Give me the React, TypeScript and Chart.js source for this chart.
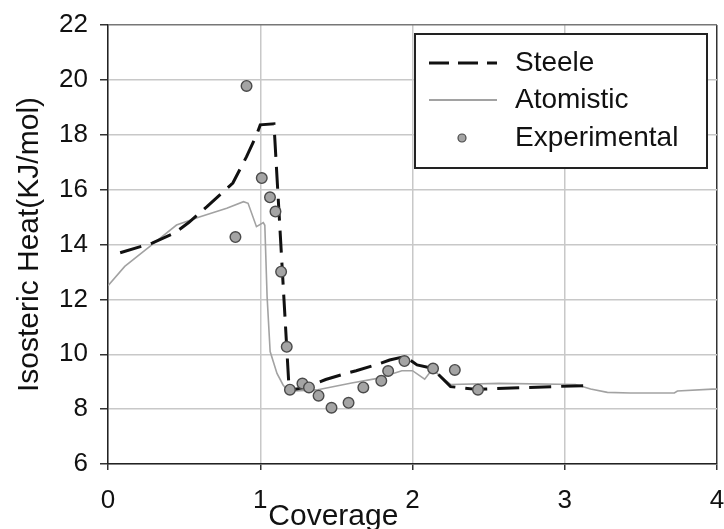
import React, { useEffect, useRef } from "react";
import { Chart, registerables } from "chart.js";

Chart.register(...registerables);

// Steele model curve (coverage vs isosteric heat, kJ/mol)
const steeleCoverage = [0.08, 0.29, 0.44, 0.53, 0.65, 0.82, 0.91, 0.98, 1.0, 1.09, 1.19, 1.3, 1.43, 1.58, 1.63, 1.79, 1.85, 1.95, 2.03, 2.13, 2.25, 2.42, 2.7, 3.15];
const steeleHeat = [13.7, 14.05, 14.43, 14.8, 15.38, 16.24, 17.2, 18.05, 18.36, 18.4, 8.68, 8.8, 9.08, 9.33, 9.4, 9.67, 9.79, 9.92, 9.61, 9.49, 8.82, 8.72, 8.78, 8.86];

// Atomistic simulation curve
const atomCoverage = [0, 0.11, 0.3, 0.45, 0.6, 0.78, 0.89, 0.92, 0.975, 1.02, 1.03, 1.045, 1.065, 1.11, 1.15, 1.185, 1.37, 1.6, 1.77, 1.93, 2.0, 2.08, 2.13, 2.25, 2.57, 3.07, 3.17, 3.28, 3.43, 3.72, 3.74, 3.97, 4.0];
const atomHeat = [12.5, 13.2, 14.04, 14.71, 15.0, 15.32, 15.56, 15.5, 14.65, 14.8, 14.7, 12.1, 10.1, 9.3, 8.88, 8.65, 8.7, 8.95, 9.12, 9.4, 9.4, 9.09, 9.45, 8.9, 8.94, 8.9, 8.73, 8.61, 8.59, 8.59, 8.66, 8.73, 8.73];

// Experimental measurements
const expCoverage = [0.837, 0.91, 1.01, 1.064, 1.1, 1.137, 1.174, 1.195, 1.277, 1.32, 1.383, 1.468, 1.58, 1.677, 1.795, 1.84, 1.947, 2.135, 2.278, 2.43];
const expHeat = [14.27, 19.78, 16.42, 15.72, 15.2, 13.01, 10.27, 8.71, 8.93, 8.79, 8.49, 8.05, 8.23, 8.79, 9.03, 9.39, 9.75, 9.48, 9.43, 8.71];

const xTicks = [0, 1, 2, 3, 4];
const yTicks = [6, 8, 10, 12, 14, 16, 18, 20, 22];

const seriesNames = ["Steele", "Atomistic", "Experimental"];
const xTitle = "Coverage";
const yTitle = "Isosteric Heat(KJ/mol)";

const FONT = "'Liberation Sans', Arial, Helvetica, sans-serif";

const toPoints = (xs: number[], ys: number[]) => xs.map((x, i) => ({ x, y: ys[i] }));

// Draws the x-axis title and the boxed legend inside the plot
const decorations = {
  id: "decorations",
  afterDraw(chart: any) {
    const { ctx, scales } = chart;
    const xs = scales.x;
    ctx.save();
    ctx.fillStyle = "#111";
    ctx.font = `30px ${FONT}`;
    ctx.textAlign = "center";
    ctx.textBaseline = "alphabetic";
    ctx.fillText(xTitle, xs.getPixelForValue(1.48), chart.chartArea.bottom + 61);

    // legend box
    const bx = 415, by = 34, bw = 292, bh = 134;
    ctx.fillStyle = "#fff";
    ctx.fillRect(bx, by, bw, bh);
    ctx.strokeStyle = "#222";
    ctx.lineWidth = 2;
    ctx.strokeRect(bx, by, bw, bh);

    const rows = [63, 100, 138];
    const ds = chart.data.datasets;
    // Steele sample
    ctx.beginPath();
    ctx.strokeStyle = ds[0].borderColor;
    ctx.lineWidth = 3;
    ctx.setLineDash([20, 9]);
    ctx.moveTo(429, rows[0]);
    ctx.lineTo(497, rows[0]);
    ctx.stroke();
    ctx.setLineDash([]);
    // Atomistic sample
    ctx.beginPath();
    ctx.strokeStyle = ds[1].borderColor;
    ctx.lineWidth = 2;
    ctx.moveTo(429, rows[1]);
    ctx.lineTo(497, rows[1]);
    ctx.stroke();
    // Experimental marker
    ctx.beginPath();
    ctx.arc(462, rows[2], 4, 0, Math.PI * 2);
    ctx.fillStyle = ds[2].backgroundColor;
    ctx.fill();
    ctx.lineWidth = 1.2;
    ctx.strokeStyle = ds[2].borderColor;
    ctx.stroke();

    ctx.fillStyle = "#111";
    ctx.font = `28px ${FONT}`;
    ctx.textAlign = "left";
    ctx.textBaseline = "middle";
    seriesNames.forEach((name, i) => ctx.fillText(name, 515, rows[i]));
    ctx.restore();
  },
};

export default function App() {
  const canvasRef = useRef<HTMLCanvasElement | null>(null);

  useEffect(() => {
    document.body.style.margin = "0";
    const canvas = canvasRef.current;
    if (!canvas) return;
    const chart = new Chart(canvas, {
      type: "line",
      data: {
        datasets: [
          {
            label: seriesNames[0],
            data: toPoints(steeleCoverage, steeleHeat),
            borderColor: "#111",
            borderWidth: 3,
            borderDash: [22, 10],
            pointRadius: 0,
            fill: false,
            tension: 0,
            order: 1,
          },
          {
            label: seriesNames[1],
            data: toPoints(atomCoverage, atomHeat),
            borderColor: "#a2a2a2",
            borderWidth: 1.6,
            pointRadius: 0,
            fill: false,
            tension: 0,
            order: 2,
          },
          {
            label: seriesNames[2],
            data: toPoints(expCoverage, expHeat),
            showLine: false,
            backgroundColor: "#a4a4a4",
            borderColor: "#4a4a4a",
            borderWidth: 1.4,
            pointRadius: 5.3,
            pointStyle: "circle",
            order: 0,
          },
        ],
      },
      options: {
        responsive: false,
        animation: false,
        devicePixelRatio: 1,
        layout: { padding: { left: 0, top: 25, right: 7, bottom: 0 } },
        plugins: {
          legend: { display: false },
          tooltip: { enabled: false },
        },
        scales: {
          x: {
            type: "linear",
            min: 0,
            max: 4,
            afterFit(scale: any) {
              scale.height = 65;
              scale.paddingLeft = 0;
              scale.paddingRight = 0;
            },
            afterBuildTicks(scale: any) {
              scale.ticks = xTicks.map((v) => ({ value: v }));
            },
            grid: {
              color: (c: any) => (c.tick && c.tick.value === 4 ? "#333" : "#c8c8c8"),
              lineWidth: 1.5,
              tickColor: "#333",
              tickLength: 6,
            },
            border: { color: "#222", width: 1.5 },
            ticks: {
              color: "#111",
              font: { family: FONT, size: 26 },
              padding: 15,
              maxRotation: 0,
            },
          },
          y: {
            type: "linear",
            min: 6,
            max: 22,
            afterFit(scale: any) {
              scale.width = 108;
              scale.paddingTop = 0;
              scale.paddingBottom = 0;
            },
            afterBuildTicks(scale: any) {
              scale.ticks = yTicks.map((v) => ({ value: v }));
            },
            grid: {
              color: (c: any) => (c.tick && c.tick.value === 22 ? "#777" : "#c8c8c8"),
              lineWidth: 1.5,
              tickColor: "#333",
              tickLength: 8,
            },
            border: { color: "#222", width: 1.5 },
            ticks: {
              color: "#111",
              font: { family: FONT, size: 26 },
              padding: 12,
            },
            title: {
              display: true,
              text: yTitle,
              color: "#111",
              font: { family: FONT, size: 30 },
              padding: { top: 12, bottom: 0 },
            },
          },
        },
      },
      plugins: [decorations],
    });
    return () => chart.destroy();
  }, []);

  return (
    <div style={{ position: "fixed", left: 0, top: 0, width: 724, height: 529, background: "#fff" }}>
      <canvas ref={canvasRef} width={724} height={529} />
    </div>
  );
}
